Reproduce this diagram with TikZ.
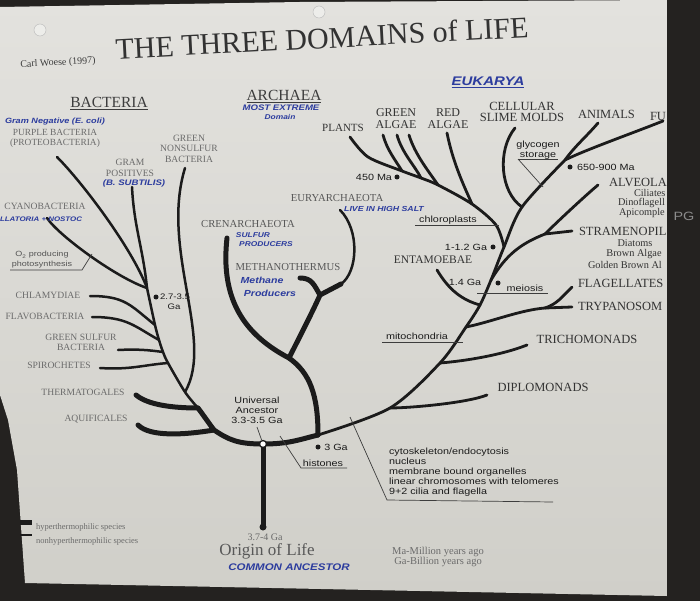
\documentclass[tikz,border=0pt]{standalone}
\usepackage{fontspec}
\setmainfont{Liberation Serif}
\setsansfont{Liberation Sans}[FakeStretch=1.2]
\newfontfamily\handfont{Liberation Sans}[FakeStretch=1.2]
\definecolor{paperA}{HTML}{E3E2DE}
\definecolor{paperB}{HTML}{D0CFC9}
\definecolor{darkbg}{HTML}{242220}
\definecolor{ink}{HTML}{1B1B1B}
\definecolor{bacgrey}{HTML}{6B6B6B}
\definecolor{arcgrey}{HTML}{585858}
\definecolor{eukgrey}{HTML}{333333}
\definecolor{pen}{HTML}{2C3C9E}
\definecolor{holec}{HTML}{EDEDEA}
\tikzset{
 tx/.style={inner sep=0pt, outer sep=0pt, align=center},
 bacl/.style={tx, text=bacgrey, font=\fontsize{9.6}{10.5}\selectfont},
 arcl/.style={tx, text=arcgrey, font=\fontsize{10.7}{12}\selectfont},
 eukl/.style={tx, text=eukgrey, font=\fontsize{12}{12}\selectfont},
 eukr/.style={tx, text=eukgrey, font=\fontsize{12.5}{13}\selectfont, anchor=west},
 subl/.style={tx, text=eukgrey, font=\fontsize{10.3}{11}\selectfont},
 sanl/.style={tx, text=ink, font=\sffamily\fontsize{9}{10}\selectfont},
 hdl/.style={tx, text=ink!85, font=\fontsize{15.5}{16}\selectfont},
 handl/.style={tx, text=pen, font=\handfont\bfseries\itshape\fontsize{8}{9}\selectfont},
 notel/.style={tx, text=bacgrey, font=\fontsize{10}{11}\selectfont},
 thinbr/.style={draw=ink, line width=2.5pt, line cap=round},
 eukbr/.style={draw=ink, line width=2.8pt, line cap=round},
 thickbr/.style={draw=ink, line width=5pt, line cap=round},
 ptr/.style={draw=ink!85, line width=0.7pt},
 dotm/.style={circle, fill=ink, inner sep=0pt, minimum size=5pt},
}
\begin{document}
\begin{tikzpicture}[x=1pt,y=-1pt]
\useasboundingbox (0,0) rectangle (700,601);
% background and paper
\fill[darkbg] (0,0) rectangle (700,601);
\shade[top color=paperA, bottom color=paperB] (0,7) -- (300,2) -- (667,0) -- (667,596) -- (25,583) -- (17,470) -- (8,420) -- (0,395) -- cycle;
\fill[holec] (40,30) circle (6pt);
\draw[black!25, line width=0.5pt] (40,30) circle (6pt);
\fill[holec] (319,12) circle (6pt);
\draw[black!25, line width=0.5pt] (319,12) circle (6pt);

% ---------- coordinates ----------
% bacteria
\coordinate (bPurp) at (57,157);
\coordinate (bGram) at (132,187);
\coordinate (bGns) at (185,168);
\coordinate (bCyan) at (47,218);
\coordinate (jB1) at (147,288);
\coordinate (jChl) at (155,325);
\coordinate (jFla) at (159,340);
\coordinate (jGsb) at (163,352);
\coordinate (jSpi) at (168,363);
\coordinate (jGns) at (185,392);
\coordinate (jT) at (198,408);
\coordinate (jA) at (214,430);
\coordinate (bChl) at (90,296);
\coordinate (bFla) at (92,317);
\coordinate (bGsb) at (118,350);
\coordinate (bSpi) at (100,368);
\coordinate (bThe) at (136,395);
\coordinate (bAqu) at (138,425);
\coordinate (UA) at (263,444);
\coordinate (OL) at (263,527);
% archaea
\coordinate (aCren) at (227,238);
\coordinate (jCr) at (289,358);
\coordinate (jArc) at (318,435);
\coordinate (aEury) at (340,210);
\coordinate (jE) at (341,284);
\coordinate (jM) at (320,295);
\coordinate (aMeth) at (300,278);
% eukarya
\coordinate (jDip) at (390,408);
\coordinate (jTri) at (440,363);
\coordinate (jFT) at (466,327);
\coordinate (jEnt) at (480,305);
\coordinate (jAS) at (491,280);
\coordinate (jPl) at (504,247);
\coordinate (jSl) at (522,207);
\coordinate (jAF) at (565,160);
\coordinate (eDip) at (487,395);
\coordinate (eTri) at (527,345);
\coordinate (jFl) at (545,308);
\coordinate (eTry) at (572,307);
\coordinate (eFla) at (572,287);
\coordinate (eEnt) at (437,270);
\coordinate (jSt) at (545,234);
\coordinate (eStr) at (572,231);
\coordinate (eAlv) at (598,185);
\coordinate (pTop) at (350,137);
\coordinate (p1) at (368,157);
\coordinate (jG1) at (402,171);
\coordinate (jG2) at (421,178);
\coordinate (jG3) at (438,185);
\coordinate (jR) at (472,204);
\coordinate (p2) at (496,225);
\coordinate (ga1) at (383,135);
\coordinate (ga2) at (397,135);
\coordinate (ga3) at (409,135);
\coordinate (ra) at (447,133);
\coordinate (eSl) at (515,128);
\coordinate (eAni) at (598,123);
\coordinate (eFun) at (663,121);

% ---------- bacteria branches ----------
\draw[thinbr] (bPurp) .. controls +(25,25) and +(-15,-40) .. (jB1);
\draw[thinbr] (bGram) .. controls +(2,40) and +(-4,-40) .. (jB1);
\draw[thinbr] (bCyan) .. controls +(12,18) and +(-30,-10) .. (jB1);
\draw[thinbr] (bGns) .. controls (160,250) and (215,340) .. (jGns);
\draw[thinbr] plot[smooth, tension=0.5] coordinates {(jB1) (jChl) (jFla) (jGsb) (jSpi) (jGns) (jT)};
\draw[thinbr] (bChl) .. controls +(35,0) and +(-25,-20) .. (jChl);
\draw[thinbr] (bFla) .. controls +(35,0) and +(-25,-14) .. (jFla);
\draw[thinbr] (bGsb) .. controls +(20,-1) and +(-15,-2) .. (jGsb);
\draw[thinbr] (bSpi) .. controls +(30,2) and +(-25,2) .. (jSpi);
\draw[thickbr] (bThe) .. controls +(12,10) and +(-25,0) .. (jT);
\draw[thickbr] (bAqu) .. controls +(12,12) and +(-30,5) .. (jA);
\draw[thickbr] (jT) .. controls +(6,8) and +(-6,-8) .. (jA) .. controls +(15,10) and +(-25,0) .. (UA) .. controls +(25,0) and +(-20,5) .. (jArc);
\draw[thickbr] (UA) -- (OL);

% ---------- archaea branches ----------
\draw[thickbr] (aCren) .. controls (220,300) and (245,335) .. (jCr) .. controls (310,373) and (318,395) .. (jArc);
\draw[thickbr] (aMeth) .. controls +(12,0) and +(-6,-10) .. (jM);
\draw[thickbr] (jE) -- (jM) .. controls +(-6,14) and +(6,-12) .. (jCr);
\draw[thinbr] (aEury) .. controls (360,230) and (358,272) .. (jE);

% ---------- eukarya branches ----------
\draw[eukbr] plot[smooth, tension=0.5] coordinates {(jArc) (jDip) (jTri) (jFT) (jEnt) (jAS) (jPl) (jSl) (jAF)};
\draw[eukbr] (eDip) .. controls +(-20,8) and +(20,0) .. (jDip);
\draw[eukbr] (eTri) .. controls +(-25,10) and +(25,-2) .. (jTri);
\draw[eukbr] (jFT) .. controls +(25,-5) and +(-25,2) .. (jFl);
\draw[eukbr] (jFl) -- (eTry);
\draw[eukbr] (jFl) .. controls +(12,-4) and +(-10,10) .. (eFla);
\draw[eukbr] (eEnt) .. controls +(12,20) and +(-18,-5) .. (jEnt);
\draw[eukbr] (jAS) .. controls +(15,-25) and +(-25,10) .. (jSt);
\draw[eukbr] (jSt) -- (eStr);
\draw[eukbr] (jSt) .. controls +(12,-12) and +(-12,10) .. (eAlv);
\draw[eukbr] plot[smooth, tension=0.5] coordinates {(pTop) (p1) (jG1) (jG2) (jG3) (jR) (p2) (jPl)};
\draw[eukbr] (ga1) .. controls +(4,15) and +(-6,-10) .. (jG1);
\draw[eukbr] (ga2) .. controls +(5,18) and +(-6,-12) .. (jG2);
\draw[eukbr] (ga3) .. controls +(6,20) and +(-8,-12) .. (jG3);
\draw[eukbr] (ra) .. controls +(6,30) and +(-8,-18) .. (jR);
\draw[eukbr] (eSl) .. controls (497,150) and (500,192) .. (jSl);
\draw[eukbr] (jAF) .. controls +(10,-14) and +(-12,14) .. (eAni);
\draw[eukbr] (jAF) .. controls +(20,-10) and +(-30,12) .. (eFun);

% ---------- dots ----------
\node[dotm] (d27) at (156,297) {};
\node[dotm] (d450) at (397,177) {};
\node[dotm] (d650) at (570,167) {};
\node[dotm] (d112) at (493,247) {};
\node[dotm] (d14) at (498,283) {};
\node[dotm] (d3) at (318,447) {};
\node[circle, draw=ink, fill=white, line width=1.3pt, inner sep=0pt, minimum size=7pt] (uac) at (UA) {};
\node[circle, fill=ink, inner sep=0pt, minimum size=7pt] (olc) at (OL) {};

% ---------- pointer lines ----------
\coordinate (o2a) at (10,270); \coordinate (o2b) at (82,270); \coordinate (o2c) at (92,254);
\draw[ptr] (o2a) -- (o2b) -- (o2c);
\coordinate (chA) at (415,225); \coordinate (chB) at (499,225);
\draw[ptr] (chA) -- (chB);
\coordinate (glA) at (518,159); \coordinate (glB) at (558,159); \coordinate (glC) at (543,187);
\draw[ptr] (glA) -- (glB); \draw[ptr] (glA) -- (glC);
\coordinate (meA) at (477,293); \coordinate (meB) at (548,293);
\draw[ptr] (meA) -- (meB);
\coordinate (miA) at (382,342); \coordinate (miB) at (463,342);
\draw[ptr] (miA) -- (miB);
\coordinate (hiA) at (280,436); \coordinate (hiB) at (301,468); \coordinate (hiC) at (347,468);
\draw[ptr] (hiA) -- (hiB) -- (hiC);
\coordinate (cyA) at (350,417); \coordinate (cyB) at (387,500); \coordinate (cyC) at (553,502);
\draw[ptr] (cyA) -- (cyB) -- (cyC);
\coordinate (uaP) at (257,427);
\draw[ptr] (uaP) -- (uac);

% ---------- title ----------
\node[tx, text=ink!90, font=\fontsize{30}{30}\selectfont, rotate=3] (title) at (322,38) {THE THREE DOMAINS of LIFE};
\node[tx, text=ink!85, font=\fontsize{10}{10}\selectfont, rotate=3] (woese) at (58,63) {Carl Woese (1997)};

% ---------- bacteria labels ----------
\node[hdl] (hBac) at (109,102) {BACTERIA};
\draw[ptr] ([yshift=-2pt]hBac.south west) -- ([yshift=-2pt]hBac.south east);
\node[handl, font=\handfont\bfseries\itshape\fontsize{7.6}{9}\selectfont] (gneg) at (55,122) {Gram Negative (E. coli)};
\node[bacl, font=\fontsize{9.4}{9.5}\selectfont] (purple) at (55,138.5) {PURPLE BACTERIA\\(PROTEOBACTERIA)};
\node[bacl] (gns) at (189,148.5) {GREEN\\NONSULFUR\\BACTERIA};
\node[bacl] (gram) at (130,168) {GRAM\\POSITIVES};
\node[handl] (bsub) at (134,183) {(B. SUBTILIS)};
\node[handl, anchor=west, font=\handfont\bfseries\itshape\fontsize{6.6}{7}\selectfont] (oscil) at (0,219) {LLATORIA + NOSTOC};
\node[bacl] (cyano) at (45,206) {CYANOBACTERIA};
\node[tx, text=ink!75, font=\sffamily\fontsize{7.5}{10}\selectfont] (o2) at (42,260) {O\textsubscript{2} producing\\photosynthesis};
\node[bacl] (chla) at (48,295) {CHLAMYDIAE};
\node[bacl] (flavo) at (45,316) {FLAVOBACTERIA};
\node[bacl] (gsb) at (81,342.5) {GREEN SULFUR\\BACTERIA};
\node[bacl] (spiro) at (59,365) {SPIROCHETES};
\node[bacl] (therm) at (83,392) {THERMATOGALES};
\node[bacl] (aquif) at (96,419) {AQUIFICALES};
\node[sanl, anchor=west, font=\sffamily\fontsize{8}{9}\selectfont] (t27) at (160,297) {2.7-3.5};
\node[sanl, font=\sffamily\fontsize{8}{9}\selectfont] (t27g) at (174,307) {Ga};

% ---------- archaea labels ----------
\node[hdl] (hArc) at (284,95) {ARCHAEA};
\draw[ptr] ([yshift=-2pt]hArc.south west) -- ([yshift=-2pt]hArc.south east);
\node[handl] (mostex) at (281,108) {MOST EXTREME};
\node[handl, font=\handfont\bfseries\itshape\fontsize{7}{8}\selectfont] (domain) at (280,117) {Domain};
\node[arcl] (cren) at (248,224) {CRENARCHAEOTA};
\node[handl, font=\handfont\bfseries\itshape\fontsize{7}{8}\selectfont] (sulf) at (253,235) {SULFUR};
\node[handl, font=\handfont\bfseries\itshape\fontsize{7}{8}\selectfont] (prod) at (266,244) {PRODUCERS};
\node[arcl] (eury) at (337,198) {EURYARCHAEOTA};
\node[handl, font=\handfont\bfseries\itshape\fontsize{7.3}{8}\selectfont] (salt) at (384,209) {LIVE IN HIGH SALT};
\node[arcl] (meth) at (288,267) {METHANOTHERMUS};
\node[handl, font=\handfont\bfseries\itshape\fontsize{8.8}{10}\selectfont] (methane) at (262,280) {Methane};
\node[handl, font=\handfont\bfseries\itshape\fontsize{8.8}{10}\selectfont] (prods) at (270,293) {Producers};

% ---------- eukarya labels ----------
\node[handl, font=\handfont\bfseries\itshape\fontsize{12.5}{14}\selectfont] (hEuk) at (488,81) {EUKARYA};
\draw[pen, line width=0.8pt] ([yshift=-2pt]hEuk.south west) -- ([yshift=-2pt]hEuk.south east);
\node[eukl, font=\fontsize{11}{12}\selectfont] (plants) at (343,128) {PLANTS};
\node[eukl] (galg) at (396,119) {GREEN\\ALGAE};
\node[eukl] (ralg) at (448,119) {RED\\ALGAE};
\node[eukl, font=\fontsize{12.5}{11.5}\selectfont] (slime) at (522,112) {CELLULAR\\SLIME MOLDS};
\node[eukr] (animals) at (578,114) {ANIMALS};
\node[eukr] (fungi) at (650,116) {FU};
\node[sanl] (glyc) at (538,150) {glycogen\\storage};
\node[sanl, anchor=west] (t650) at (577,167) {650-900 Ma};
\node[sanl] (t450) at (374,177) {450 Ma};
\node[sanl] (chlor) at (448,220) {chloroplasts};
\node[sanl] (t112) at (466,247) {1-1.2 Ga};
\node[eukl, font=\fontsize{11.5}{12}\selectfont] (entam) at (433,260) {ENTAMOEBAE};
\node[sanl] (t14) at (465,282) {1.4 Ga};
\node[sanl] (meio) at (525,288) {meiosis};
\node[sanl] (mito) at (417,336) {mitochondria};
\node[sanl] (t3) at (336,447) {3 Ga};
\node[sanl] (hist) at (323,463) {histones};
\node[sanl] (uanc) at (257,410.5) {Universal\\Ancestor\\3.3-3.5 Ga};
\node[sanl, align=left, anchor=north west] (cyto) at (389,448) {cytoskeleton/endocytosis\\nucleus\\membrane bound organelles\\linear chromosomes with telomeres\\9+2 cilia and flagella};

\node[eukr] (alv) at (609,182) {ALVEOLA};
\node[subl, anchor=west] (cil) at (634,193) {Ciliates};
\node[subl, anchor=west] (dino) at (618,203) {Dinoflagell};
\node[subl, anchor=west] (apic) at (619,213) {Apicomple};
\node[eukr] (stram) at (579,231) {STRAMENOPIL};
\node[subl] (diat) at (635,243.5) {Diatoms};
\node[subl] (brown) at (634,254) {Brown Algae};
\node[subl, anchor=west] (golden) at (588,264.5) {Golden Brown Al};
\node[eukr] (flag) at (578,283) {FLAGELLATES};
\node[eukr] (tryp) at (578,306) {TRYPANOSOM};
\node[eukr, anchor=center] (trich) at (587,339) {TRICHOMONADS};
\node[eukr, anchor=center] (diplo) at (543,387) {DIPLOMONADS};

% ---------- bottom ----------
\node[notel] (t374) at (265,537) {3.7-4 Ga};
\node[tx, text=arcgrey, font=\fontsize{17}{17}\selectfont] (origin) at (267,551) {Origin of Life};
\node[handl, font=\handfont\bfseries\itshape\fontsize{9.6}{11}\selectfont] (common) at (289,567) {COMMON ANCESTOR};
\node[notel, font=\fontsize{10.5}{11}\selectfont] (mam) at (438,552) {Ma-Million years ago};
\node[notel, font=\fontsize{10.5}{11}\selectfont] (gab) at (438,562) {Ga-Billion years ago};
\coordinate (lg1a) at (20,522); \coordinate (lg1b) at (32,522);
\coordinate (lg2a) at (20,535); \coordinate (lg2b) at (32,535);
\draw[draw=ink, line width=5pt] (lg1a) -- (lg1b);
\draw[draw=ink, line width=2pt] (lg2a) -- (lg2b);
\node[notel, anchor=west, font=\fontsize{8.5}{9}\selectfont] (hyp) at (36,527) {hyperthermophilic species};
\node[notel, anchor=west, font=\fontsize{8.5}{9}\selectfont] (nonhyp) at (36,541) {nonhyperthermophilic species};

% ---------- right dark edge ----------
\fill[darkbg] (667,0) rectangle (700,601);
\node[tx, text=black!45, font=\sffamily\fontsize{12}{12}\selectfont] (pg) at (684,216) {PG};
\end{tikzpicture}
\end{document}
